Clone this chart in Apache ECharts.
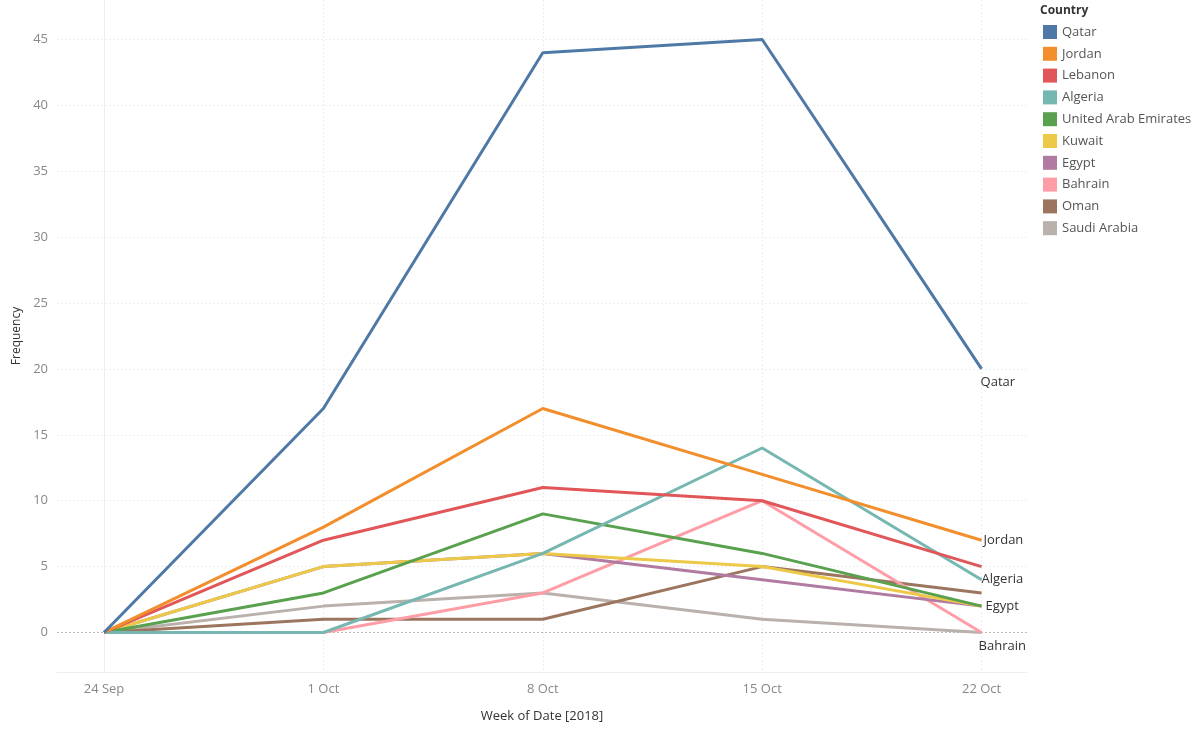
<!DOCTYPE html>
<html>
<head>
<meta charset="utf-8">
<script src="https://cdn.jsdelivr.net/npm/echarts@6/dist/echarts.min.js"></script>
<style>
  html, body { margin: 0; padding: 0; background: #fff; }
  #chart { width: 1200px; height: 732px; }
</style>
</head>
<body>
<div id="chart"></div>
<script>
// weeks, as day offsets from 24 Sep 2018
var weekDays = [0, 7, 14, 21, 28];
var weekLabels = ["24 Sep", "1 Oct", "8 Oct", "15 Oct", "22 Oct"];
var yTicks = [0, 5, 10, 15, 20, 25, 30, 35, 40, 45];

var countries = ["Qatar", "Jordan", "Lebanon", "Algeria", "United Arab Emirates",
  "Kuwait", "Egypt", "Bahrain", "Oman", "Saudi Arabia"];
var colors = ["#4e79a7", "#f28e2b", "#e15759", "#76b7b2", "#59a14f",
  "#edc948", "#b07aa1", "#ff9da7", "#9c755f", "#bab0ac"];

var qatar = [0, 17, 44, 45, 20];
var jordan = [0, 8, 17, 12, 7];
var lebanon = [0, 7, 11, 10, 5];
var algeria = [0, 0, 6, 14, 4];
var uae = [0, 3, 9, 6, 2];
var kuwait = [0, 5, 6, 5, 2];
var egypt = [0, 5, 6, 4, 2];
var bahrain = [0, 0, 3, 10, 0];
var oman = [0, 1, 1, 5, 3];
var saudi = [0, 2, 3, 1, 0];
var values = [qatar, jordan, lebanon, algeria, uae, kuwait, egypt, bahrain, oman, saudi];

// end labels shown like the Tableau view (offsets x, y)
var endLabels = {
  "Qatar": [-3, 13],
  "Jordan": [0, 0],
  "Algeria": [-2, 0],
  "Egypt": [2, 0],
  "Bahrain": [-5, 14]
};

var font = "Open Sans";
var chart = echarts.init(document.getElementById("chart"));

var series = countries.map(function (name, i) {
  var s = {
    name: name,
    type: "line",
    data: values[i].map(function (v, j) { return [weekDays[j], v]; }),
    showSymbol: false,
    symbol: "none",
    lineStyle: { width: 3, color: colors[i] },
    itemStyle: { color: colors[i] },
    z: 20 - i,
    animation: false,
    emphasis: { disabled: true }
  };
  if (endLabels[name]) {
    s.endLabel = {
      show: true,
      formatter: "{a}",
      distance: 2,
      offset: endLabels[name],
      color: "#333",
      fontFamily: font,
      fontSize: 13
    };
  }
  return s;
});

// dotted zero line
series[0].markLine = {
  silent: true,
  symbol: "none",
  label: { show: false },
  lineStyle: { type: [2, 2], color: "#bbb", width: 1 },
  data: [{ yAxis: 0 }]
};

var option = {
  backgroundColor: "#fff",
  animation: false,
  color: colors,
  grid: { left: 57, right: 173, top: 0, bottom: 60, containLabel: false, outerBoundsMode: "none" },
  legend: {
    orient: "vertical",
    left: 1043,
    top: 25,
    padding: 0,
    icon: "rect",
    itemWidth: 14,
    itemHeight: 14,
    itemGap: 7.8,
    textStyle: { color: "#555", fontFamily: font, fontSize: 13 },
    data: countries
  },
  graphic: [{
    type: "text",
    left: 1040,
    top: 5,
    style: { text: "Country", fill: "#333", font: "bold 12px " + font }
  }],
  xAxis: {
    type: "value",
    min: -1.5,
    max: 29.45,
    name: "Week of Date [2018]",
    nameLocation: "middle",
    nameGap: 38,
    nameTextStyle: { color: "#333", fontFamily: font, fontSize: 13 },
    axisLine: { show: true, onZero: false, lineStyle: { color: "#eee" } },
    axisTick: { show: false, customValues: weekDays },
    axisLabel: {
      customValues: weekDays,
      margin: 11,
      color: "#888",
      fontFamily: font,
      fontSize: 13,
      formatter: function (v) { return weekLabels[weekDays.indexOf(v)]; }
    },
    splitLine: { show: true, lineStyle: { color: "#eee", type: [2, 2] } }
  },
  yAxis: {
    type: "value",
    min: -3,
    max: 48,
    name: "Frequency",
    nameLocation: "middle",
    nameGap: 34,
    nameTextStyle: { color: "#333", fontFamily: font, fontSize: 12 },
    axisLine: { show: true, lineStyle: { color: "#eee" } },
    axisTick: { show: false, customValues: yTicks },
    axisLabel: {
      customValues: yTicks,
      margin: 9,
      color: "#888",
      fontFamily: font,
      fontSize: 13
    },
    splitLine: { show: true, lineStyle: { color: "#eee", type: [2, 2] } }
  },
  series: series
};

chart.setOption(option);
</script>
</body>
</html>
